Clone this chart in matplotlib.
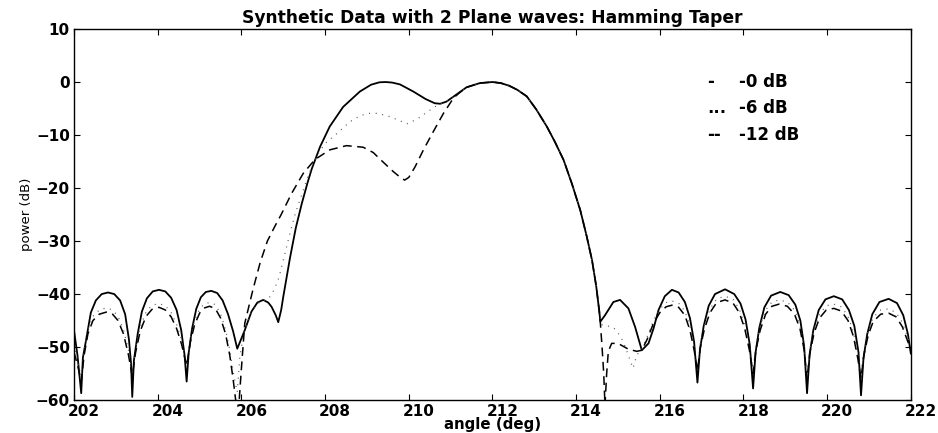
import numpy as np
import matplotlib
matplotlib.use("Agg")
import matplotlib.pyplot as plt
import matplotlib.transforms as mtransforms

# -0 dB (solid)
sol_ang = [202.00, 202.08, 202.17, 202.21, 202.29, 202.40, 202.52, 202.66, 202.81, 202.96, 203.10, 203.22, 203.31, 203.36,
           203.39, 203.43, 203.52, 203.62, 203.74, 203.88, 204.03, 204.18, 204.32, 204.45, 204.56, 204.64, 204.69, 204.74,
           204.82, 204.92, 205.03, 205.15, 205.28, 205.42, 205.55, 205.68, 205.80, 205.90, 206.08, 206.24, 206.38, 206.52,
           206.64, 206.72, 206.82, 206.88, 206.95, 207.00, 207.16, 207.30, 207.44, 207.58, 207.68, 207.88, 208.11, 208.43,
           208.83, 209.10, 209.30, 209.45, 209.60, 209.79, 210.11, 210.40, 210.62, 210.75, 210.90, 211.06, 211.38, 211.70,
           212.00, 212.20, 212.40, 212.60, 212.82, 213.05, 213.30, 213.50, 213.70, 213.90, 214.10, 214.25, 214.38, 214.48,
           214.55, 214.58, 214.69, 214.89, 215.05, 215.25, 215.41, 215.57, 215.73, 215.85, 215.97, 216.12, 216.29, 216.45,
           216.60, 216.72, 216.82, 216.90, 216.96, 217.05, 217.17, 217.32, 217.56, 217.78, 217.93, 218.05, 218.15, 218.23,
           218.29, 218.38, 218.50, 218.66, 218.88, 219.08, 219.24, 219.36, 219.45, 219.52, 219.58, 219.67, 219.80, 219.96,
           220.16, 220.36, 220.52, 220.65, 220.75, 220.81, 220.87, 220.96, 221.08, 221.25, 221.47, 221.67, 221.82, 221.93,
           222.00]
sol_db = [-47.0, -51.5, -58.7, -52.0, -48.5, -43.5, -41.2, -40.0, -39.7, -40.0, -41.2, -43.8, -48.5, -53.0,
          -59.4, -52.5, -47.5, -43.3, -40.8, -39.5, -39.2, -39.5, -40.7, -43.0, -46.8, -51.5, -56.5, -51.0,
          -46.5, -42.8, -40.6, -39.6, -39.4, -39.8, -41.2, -43.8, -47.0, -50.3, -46.8, -43.3, -41.6, -41.1,
          -41.6, -42.4, -44.0, -45.3, -43.0, -40.5, -33.2, -27.5, -23.0, -19.0, -16.4, -12.2, -8.4, -4.7,
          -1.8, -0.5, -0.05, 0.0, -0.1, -0.45, -1.8, -3.2, -4.0, -4.1, -3.7, -2.8, -1.0, -0.2,
          0.0, -0.2, -0.7, -1.5, -2.7, -5.2, -8.4, -11.4, -14.7, -19.2, -24.2, -29.0, -33.6, -38.5,
          -43.0, -45.2, -44.0, -41.5, -41.1, -42.7, -46.2, -50.6, -49.3, -46.5, -43.0, -40.4, -39.2, -39.7,
          -41.5, -44.5, -49.0, -56.7, -50.5, -46.0, -42.2, -40.0, -39.1, -40.0, -41.8, -44.8, -49.5, -57.8,
          -51.0, -46.3, -42.5, -40.3, -39.6, -40.2, -42.0, -45.0, -49.8, -58.7, -51.5, -46.8, -43.0, -41.0,
          -40.4, -41.0, -43.0, -46.0, -51.0, -59.1, -52.0, -47.5, -43.8, -41.5, -40.9, -41.7, -44.0, -47.5,
          -51.2]

# -6 dB (dotted)
dot_ang = [202.00, 202.10, 202.17, 202.24, 202.33, 202.45, 202.60, 202.77, 202.92, 203.05, 203.18, 203.30, 203.39, 203.47,
           203.58, 203.72, 203.86, 204.03, 204.18, 204.32, 204.45, 204.57, 204.69, 204.78, 204.88, 205.00, 205.12, 205.24,
           205.38, 205.50, 205.62, 205.72, 205.82, 205.90, 205.96, 206.05, 206.24, 206.38, 206.52, 206.64, 206.78, 206.90,
           207.00, 207.16, 207.30, 207.44, 207.58, 207.72, 207.85, 208.00, 208.27, 208.59, 208.85, 209.07, 209.25, 209.50,
           209.79, 209.95, 210.20, 210.45, 210.70, 210.90, 211.06, 211.38, 211.70, 212.00, 212.20, 212.40, 212.60, 212.82,
           213.05, 213.30, 213.50, 213.70, 213.90, 214.10, 214.25, 214.38, 214.48, 214.55, 214.62, 214.75, 214.89, 215.00,
           215.13, 215.29, 215.36, 215.45, 215.57, 215.70, 215.85, 216.00, 216.15, 216.29, 216.45, 216.60, 216.72, 216.82,
           216.90, 216.97, 217.07, 217.20, 217.36, 217.56, 217.75, 217.90, 218.03, 218.14, 218.23, 218.30, 218.40, 218.53,
           218.68, 218.85, 219.05, 219.22, 219.35, 219.45, 219.52, 219.59, 219.69, 219.82, 219.98, 220.16, 220.34, 220.50,
           220.63, 220.73, 220.81, 220.88, 220.98, 221.10, 221.28, 221.47, 221.65, 221.80, 221.92, 222.00]
dot_db = [-49.5, -53.0, -56.0, -50.5, -46.7, -44.2, -43.0, -42.6, -43.0, -44.2, -46.7, -50.5, -55.0, -50.0,
          -46.2, -43.4, -42.1, -41.8, -42.2, -43.5, -45.7, -48.7, -53.0, -48.2, -45.0, -42.8, -41.8, -41.6,
          -42.0, -43.7, -46.7, -50.5, -55.5, -58.5, -52.0, -47.5, -43.5, -41.8, -41.2, -41.0, -39.2, -36.8,
          -33.6, -28.5, -24.5, -21.3, -18.0, -15.3, -13.3, -11.6, -9.8, -7.5, -6.3, -5.9, -5.9, -6.4,
          -7.3, -7.9, -7.0, -5.6, -4.3, -3.7, -2.8, -1.0, -0.2, 0.0, -0.2, -0.7, -1.5, -2.7,
          -5.2, -8.4, -11.4, -14.7, -19.2, -24.2, -29.0, -33.6, -38.5, -43.0, -45.8, -46.0, -46.3, -47.3,
          -49.0, -52.5, -54.0, -51.5, -50.4, -48.0, -45.0, -42.8, -41.6, -41.3, -41.7, -43.2, -46.0, -49.7,
          -54.0, -49.3, -45.8, -42.8, -40.9, -40.4, -41.0, -42.8, -45.8, -49.8, -54.5, -49.8, -46.0, -43.0,
          -41.5, -41.1, -41.5, -43.0, -45.8, -49.8, -55.5, -50.3, -46.6, -43.8, -42.2, -41.9, -42.4, -44.2,
          -47.2, -51.2, -55.0, -50.8, -47.0, -44.4, -43.0, -42.8, -43.5, -45.4, -48.0, -49.8]

# -12 dB (dashed)
dash_ang = [202.00, 202.10, 202.17, 202.24, 202.33, 202.45, 202.60, 202.77, 202.92, 203.05, 203.18, 203.30, 203.39, 203.47,
            203.58, 203.72, 203.86, 204.03, 204.18, 204.32, 204.45, 204.57, 204.69, 204.78, 204.88, 205.00, 205.12, 205.24,
            205.38, 205.50, 205.62, 205.72, 205.80, 205.87, 205.93, 205.99, 206.08, 206.28, 206.45, 206.62, 206.80, 206.95,
            207.20, 207.48, 207.76, 208.11, 208.51, 208.91, 209.15, 209.40, 209.63, 209.80, 209.90, 210.00, 210.15, 210.35,
            210.59, 210.83, 211.07, 211.20, 211.38, 211.70, 212.00, 212.20, 212.40, 212.60, 212.82, 213.05, 213.30, 213.50,
            213.70, 213.90, 214.10, 214.25, 214.38, 214.48, 214.55, 214.58, 214.62, 214.66, 214.69, 214.73, 214.77, 214.85,
            215.00, 215.25, 215.45, 215.57, 215.70, 215.85, 216.00, 216.15, 216.29, 216.45, 216.60, 216.72, 216.82, 216.90,
            216.97, 217.07, 217.20, 217.36, 217.56, 217.75, 217.90, 218.03, 218.14, 218.23, 218.30, 218.40, 218.53, 218.68,
            218.85, 219.05, 219.22, 219.35, 219.45, 219.52, 219.59, 219.69, 219.82, 219.98, 220.16, 220.34, 220.50, 220.63,
            220.73, 220.81, 220.88, 220.98, 221.10, 221.28, 221.47, 221.65, 221.80, 221.92, 222.00]
dash_db = [-51.0, -54.0, -56.5, -51.5, -47.5, -45.0, -43.8, -43.4, -43.8, -45.0, -47.5, -51.5, -55.5, -51.0,
           -47.0, -44.2, -42.9, -42.5, -43.0, -44.3, -46.5, -49.5, -53.5, -49.0, -45.8, -43.6, -42.6, -42.3,
           -42.8, -44.5, -47.5, -51.5, -56.0, -60.5, -62.0, -55.0, -45.5, -39.0, -34.0, -30.0, -27.2, -25.0,
           -21.0, -17.2, -14.6, -12.8, -12.0, -12.3, -13.3, -15.2, -16.9, -18.0, -18.5, -18.0, -16.0, -12.8,
           -9.3, -5.9, -3.0, -2.1, -1.0, -0.2, 0.0, -0.2, -0.7, -1.5, -2.7, -5.2, -8.4, -11.4,
           -14.7, -19.2, -24.2, -29.0, -33.6, -38.5, -43.0, -45.5, -50.0, -55.0, -61.0, -55.0, -50.8, -49.3,
           -49.3, -50.4, -50.8, -50.6, -48.5, -45.5, -43.5, -42.4, -42.1, -42.5, -44.0, -46.8, -50.5, -54.5,
           -50.0, -46.5, -43.5, -41.6, -41.1, -41.7, -43.5, -46.5, -50.5, -55.0, -50.5, -46.8, -43.8, -42.3,
           -41.9, -42.3, -43.8, -46.5, -50.5, -56.0, -51.0, -47.3, -44.5, -43.0, -42.7, -43.2, -45.0, -48.0,
           -52.0, -55.9, -51.5, -47.8, -45.2, -43.8, -43.6, -44.3, -46.2, -48.8, -50.5]

legend_labels = ["-0 dB", "-6 dB", "-12 dB"]
legend_marks = ["-", "...", "--"]

fig = plt.figure(figsize=(9.38, 4.33), dpi=100)
ax = fig.add_axes([0.079, 0.076, 0.892, 0.857])

ax.plot(sol_ang, sol_db, color='black', lw=1.3, ls='-')
ax.plot(dot_ang, dot_db, color='0.35', lw=0.9, ls=(0, (0.8, 4.5)))
ax.plot(dash_ang, dash_db, color='black', lw=1.1, ls=(0, (5.8, 3.6)))

ax.set_xlim(202, 222)
ax.set_ylim(-60, 10)
ax.set_xticks(np.arange(202, 223, 2))
ax.set_yticks(np.arange(-60, 11, 10))
ax.tick_params(direction='in', top=True, right=True, length=4, width=0.8,
               labelsize=11, pad=3)
ax.tick_params(axis='x', pad=2.5)
# the x labels sit a bit right of their ticks in the original
shift = mtransforms.ScaledTranslation(10 / 100, 0, fig.dpi_scale_trans)
for lab in ax.get_xticklabels():
    lab.set_transform(lab.get_transform() + shift)
for lab in ax.get_xticklabels() + ax.get_yticklabels():
    lab.set_fontweight('bold')
for sp in ax.spines.values():
    sp.set_linewidth(1.0)

ax.set_title('Synthetic Data with 2 Plane waves: Hamming Taper',
             fontsize=12.3, fontweight='bold', pad=4)
ax.set_xlabel('angle (deg)', fontsize=10.8, fontweight='bold', labelpad=-1)
ax.set_ylabel('power (dB)', fontsize=9.5, labelpad=2)

# legend drawn as plain text, like the original
ys = [0.857, 0.787, 0.714]
for mk, lab, y in zip(legend_marks, legend_labels, ys):
    ax.text(0.757, y, mk, transform=ax.transAxes, fontsize=12, fontweight='bold',
            va='center', ha='left')
    ax.text(0.795, y, lab, transform=ax.transAxes, fontsize=12, fontweight='bold',
            va='center', ha='left')

fig.savefig('out.png', dpi=100)
